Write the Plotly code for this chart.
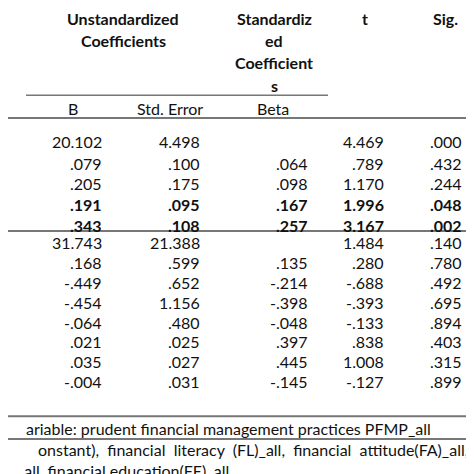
import plotly.graph_objects as go

# coefficient table values (two model blocks)
b_vals = ["20.102", ".079", ".205", ".191", ".343",
          "31.743", ".168", "-.449", "-.454", "-.064", ".021", ".035", "-.004"]
se_vals = ["4.498", ".100", ".175", ".095", ".108",
           "21.388", ".599", ".652", "1.156", ".480", ".025", ".027", ".031"]
beta_vals = ["", ".064", ".098", ".167", ".257",
             "", ".135", "-.214", "-.398", "-.048", ".397", ".445", "-.145"]
t_vals = ["4.469", ".789", "1.170", "1.996", "3.167",
          "1.484", ".280", "-.688", "-.393", "-.133", ".838", "1.008", "-.127"]
sig_vals = [".000", ".432", ".244", ".048", ".002",
            ".140", ".780", ".492", ".695", ".894", ".403", ".315", ".899"]
bold_rows = [3, 4]

row_y = [124, 144, 163, 182, 202] + [218 + 18.4 * i for i in range(8)]
col_right = [96, 194, 302, 378, 456]

FONT = "Lato"
ann = []

def txt(x, y, s, anchor="center", bold=False, size=16):
    ann.append(dict(x=x, y=y, text="<b>%s</b>" % s if bold else s, showarrow=False,
                    xanchor=anchor, yanchor="middle",
                    font=dict(family=FONT, size=size, color="#111")))

# header
txt(115, 10, "Unstandardized", bold=True)
txt(115, 30, "Coefficients", bold=True)
for i, s in enumerate(["Standardiz", "ed", "Coefficient", "s"]):
    txt(266, 10 + 20.5 * i, s, bold=True)
txt(357, 10, "t", bold=True)
txt(437, 10, "Sig.", bold=True)
txt(65, 93, "B")
txt(162, 93, "Std. Error")
txt(265, 93, "Beta")

for i in range(len(b_vals)):
    bold = i in bold_rows
    for col, vals in enumerate([b_vals, se_vals, beta_vals, t_vals, sig_vals]):
        if vals[i]:
            txt(col_right[col], row_y[i], vals[i], anchor="right", bold=bold)

# footnotes (cut off at left edge in the source)
txt(425, 390, "ariable: prudent financial management practices PFMP_all", anchor="right")
txt(462, 410, "onstant),&nbsp;&nbsp;financial&nbsp;&nbsp;literacy&nbsp;&nbsp;(FL)_all,&nbsp;&nbsp;financial&nbsp;&nbsp;attitude(FA)_all,", anchor="right")
txt(223, 429, "_all, financial education(FE)_all", anchor="right")

line = dict(color="#777", width=2)
shapes = [
    dict(type="line", x0=18, x1=320, y0=81, y1=81, line=dict(color="#777", width=1.5)),
    dict(type="line", x0=0, x1=474, y0=102, y1=102, line=line),
    dict(type="line", x0=0, x1=474, y0=207, y1=207, line=line),
    dict(type="line", x0=0, x1=474, y0=379, y1=379, line=line),
    dict(type="line", x0=0, x1=474, y0=400, y1=400, line=line),
]

fig = go.Figure()
fig.update_layout(
    width=474, height=474, margin=dict(l=0, r=0, t=0, b=0),
    paper_bgcolor="white", plot_bgcolor="white",
    xaxis=dict(range=[0, 474], visible=False, fixedrange=True),
    yaxis=dict(range=[440, 0], visible=False, fixedrange=True),
    annotations=ann, shapes=shapes, showlegend=False,
)
fig.write_html("out.html")
